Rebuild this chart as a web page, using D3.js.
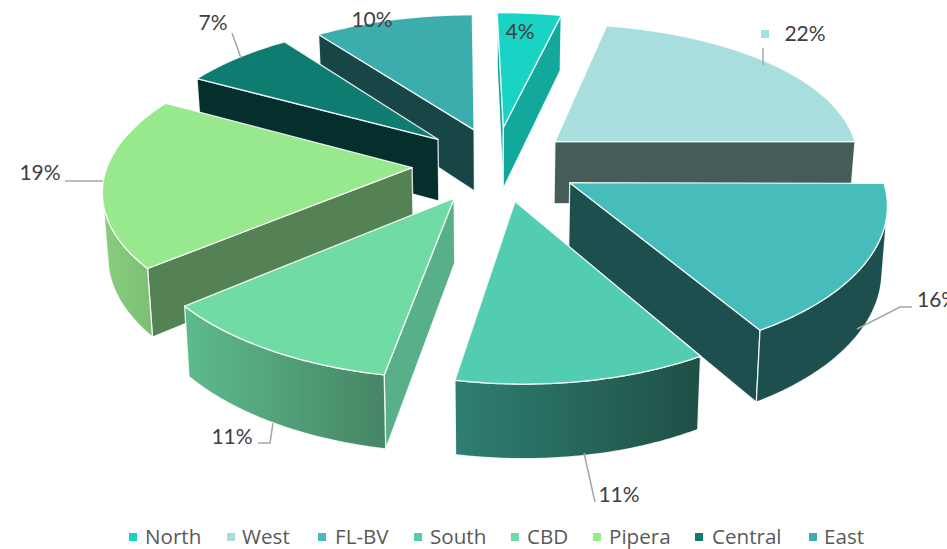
<!DOCTYPE html>
<html><head><meta charset="utf-8">
<script src="https://cdn.jsdelivr.net/npm/d3@7"></script>
<style>html,body{margin:0;padding:0;background:#fff;overflow:hidden}svg{display:block}</style>
</head><body><div id="c"></div>
<script>
const categories=["North","West","FL-BV","South","CBD","Pipera","Central","East"];
const shares=[4,22,16,11,11,19,7,10];
const topColors=["#19D3C5","#A8DEDE","#47BDBB","#52CDB1","#70DBA4","#98E88E","#0F7C72","#3BADAD"];
const radialColors=["#12A89C","#455C58","#1C4F4D","#2F7F72","#58B088","#558255","#052F2C","#184545"];
const arcStart=["#12A89C","#455C58","#1C4F4D","#2F7F72","#5DBB8E","#88CE7F","#052F2C","#184545"];
const arcEnd=["#12A89C","#455C58","#1C4F4D","#1F4F45","#468565","#7DBE75","#052F2C","#184545"];
const paintOrder=[7,0,6,1,5,2,4,3];
const nudgeX=[-1,-5,2,4,0,-2,3,4];
const nudgeY=[0,0,-2,-2,0,0,0,1];
const labelText=["4%","22%","16%","11%","11%","19%","7%","10%"];
const labelX=[520,805,917,619,232,40,213,372];
const labelY=[32,34,300,495,437,173,23,20];
const labelAnchor=["middle","middle","start","middle","middle","middle","middle","middle"];
const leaders=[[],[[763,48],[763,65]],[[857,329],[900,307],[912,307]],[[584,453],[595,502]],[[273,423],[270,443],[258,443]],[[65,181],[103,181]],[[232,33],[241,58]],[]];
const legendSwatchX=[129,227,318,414,511,593,695,809];
const legendTextX=[145,242,335,430,527,609,712,824];

const W=947,H=549;
const svg=d3.select("#c").append("svg").attr("width",W).attr("height",H);
const defs=svg.append("defs");
const line=d3.line();
const arcs=d3.pie().sort(null).value(d=>d)(shares);
const explode=0.27,cx=496,cy=164,A=304,B=142,kY=0.15,shearY=-6,drop=63,kZ=0.014,roll=6;
function project(X,Y,z){
  const w=1+kY*Y, s=1-kZ*z;
  return [cx+(A*X+shearY*Y)/w*s, cy-B*Y/w*s+drop*z/w-(X>0?roll*X*X:0)];
}
function pt(a,r,m,z){
  return project(explode*Math.sin(m)+r*Math.sin(a), explode*Math.cos(m)+r*Math.cos(a), z);
}
paintOrder.forEach(i=>{
  const a=arcs[i],m=(a.startAngle+a.endAngle)/2;
  const gid="g"+i;
  const lg=defs.append("linearGradient").attr("id",gid);
  lg.append("stop").attr("offset","0").attr("stop-color",arcStart[i]);
  lg.append("stop").attr("offset","1").attr("stop-color",arcEnd[i]);
  const ang=d3.range(0,61).map(t=>a.startAngle+(a.endAngle-a.startAngle)*t/60);
  const g=svg.append("g").attr("transform",`translate(${nudgeX[i]},${nudgeY[i]})`)
    .attr("stroke","#fff").attr("stroke-opacity",0.85).attr("stroke-width",1.3).attr("stroke-linejoin","round");
  [[a.startAngle,1],[a.endAngle,-1]].forEach(([e,sign])=>{
    const q=[pt(0,0,m,0),pt(e,1,m,0),pt(e,1,m,1),pt(0,0,m,1)];
    if(d3.polygonArea(q)*sign>0) g.append("path").attr("fill",radialColors[i]).attr("d",line(q)+"Z");
  });
  const vis=ang.filter((t,j)=>{
    const u=ang[Math.min(j,59)],v=ang[Math.min(j,59)+1];
    return d3.polygonArea([pt(u,1,m,0),pt(v,1,m,0),pt(v,1,m,1),pt(u,1,m,1)])>0;
  });
  if(vis.length>1){
    g.append("path").attr("fill",`url(#${gid})`)
     .attr("d",line(vis.map(t=>pt(t,1,m,0)).concat(vis.slice().reverse().map(t=>pt(t,1,m,1))))+"Z");
  }
  g.append("path").attr("fill",topColors[i]).attr("d",line([pt(0,0,m,0)].concat(ang.map(t=>pt(t,1,m,0))))+"Z");
});
const lab=svg.append("g").attr("font-family","Lato, Carlito, sans-serif").attr("font-size",21).attr("fill","#404040");
leaders.forEach(l=>{if(l.length)lab.append("path").attr("d",line(l)).attr("fill","none").attr("stroke","#A6A6A6").attr("stroke-width",1.5);});
labelText.forEach((t,i)=>lab.append("text").attr("x",labelX[i]).attr("y",labelY[i]).attr("dy","0.35em").attr("text-anchor",labelAnchor[i]).text(t));
lab.append("rect").attr("x",761).attr("y",30).attr("width",8).attr("height",8).attr("fill",topColors[1]);
const leg=svg.append("g").attr("font-family","'Open Sans', sans-serif").attr("font-size",20.6).attr("fill","#595959");
categories.forEach((c,i)=>{
  leg.append("rect").attr("x",legendSwatchX[i]).attr("y",533).attr("width",8).attr("height",8).attr("fill",topColors[i]);
  leg.append("text").attr("x",legendTextX[i]).attr("y",544).text(c);
});
</script></body></html>
